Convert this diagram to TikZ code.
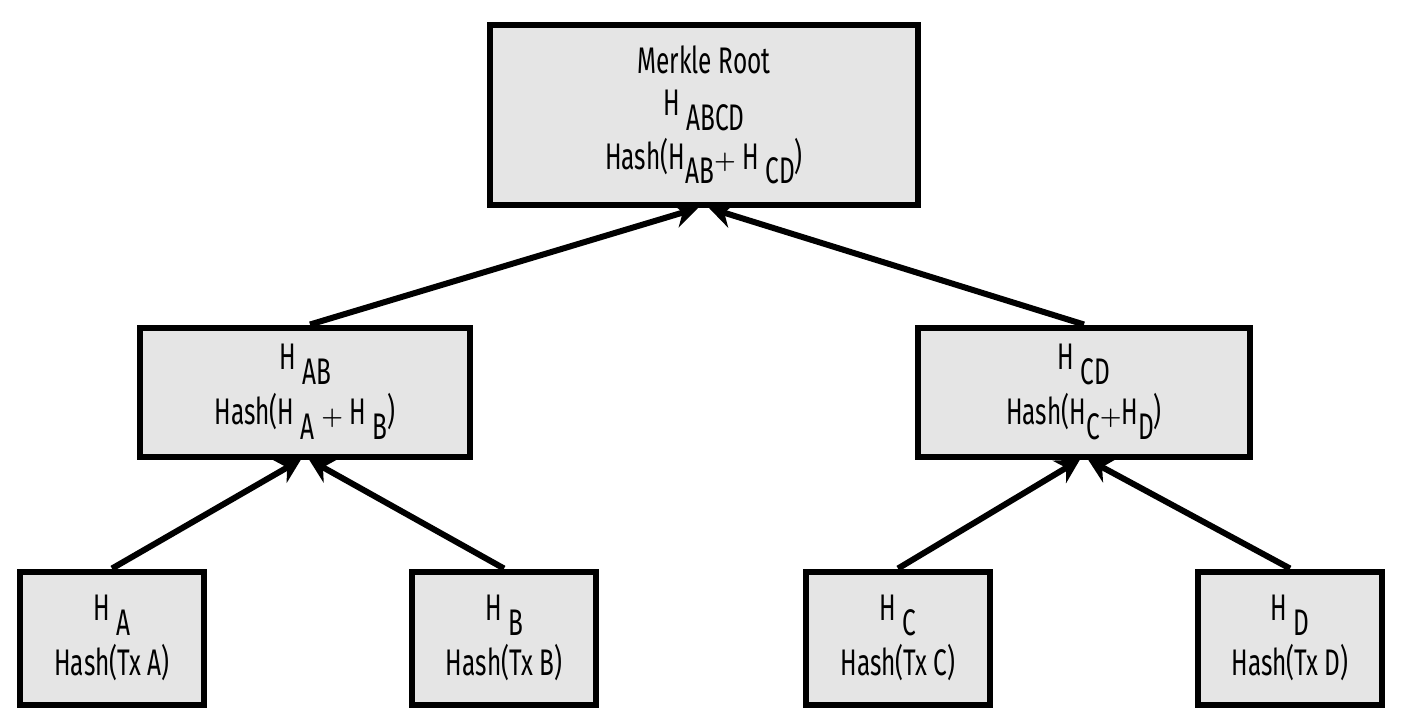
\documentclass[tikz,border=0pt]{standalone}
\usepackage{fontspec}
\usepackage{amsmath}
\setmainfont{Fira Sans}[FakeStretch=0.66]
\usetikzlibrary{arrows.meta}
% lowered label letters set at full size, as in the hash notation
\newcommand{\lowsub}[1]{\raisebox{-0.4em}{#1}}
\newcommand{\plus}{\raisebox{0.02em}{$\boldsymbol{+}$}}
\begin{document}
\begin{tikzpicture}[x=1pt,y=-1pt,
  hashbox/.style={draw=black, line width=6pt, fill=black!10, align=center,
    inner sep=0pt, font=\fontsize{37}{42}\selectfont},
  link/.style={line width=6pt, -{Stealth[length=24pt,width=26pt,inset=8pt]}}]
\useasboundingbox (0,0) rectangle (1408,724);

\node[hashbox, minimum width=428pt, minimum height=180pt] (root) at (704,115)
  {Merkle Root\\[0pt] H \lowsub{ABCD}\\[6pt] Hash(H\lowsub{AB}\plus\ H \lowsub{CD})};

\node[hashbox, minimum width=330pt, minimum height=129pt] (hab) at (305,392)
  {H \lowsub{AB}\\[8pt] Hash(H \lowsub{A} \plus\ H \lowsub{B})};
\node[hashbox, minimum width=332pt, minimum height=129pt] (hcd) at (1084,392)
  {H \lowsub{CD}\\[8pt] Hash(H\lowsub{C}\plus H\lowsub{D})};

\node[hashbox, minimum width=184pt, minimum height=133pt] (ha) at (112,638)
  {H \lowsub{A}\\[8pt] Hash(Tx A)};
\node[hashbox, minimum width=184pt, minimum height=133pt] (hb) at (504,638)
  {H \lowsub{B}\\[8pt] Hash(Tx B)};
\node[hashbox, minimum width=184pt, minimum height=133pt] (hc) at (898,638)
  {H \lowsub{C}\\[8pt] Hash(Tx C)};
\node[hashbox, minimum width=184pt, minimum height=133pt] (hd) at (1290,638)
  {H \lowsub{D}\\[8pt] Hash(Tx D)};

\draw[link] ([xshift=5pt]hab.north) -- ([xshift=-6pt]root.south);
\draw[link] (hcd.north) -- ([xshift=5pt]root.south);
\draw[link] (ha.north) -- ([xshift=-4pt]hab.south);
\draw[link] (hb.north) -- ([xshift=4pt]hab.south);
\draw[link] (hc.north) -- ([xshift=-4pt]hcd.south);
\draw[link] (hd.north) -- ([xshift=4pt]hcd.south);
\end{tikzpicture}
\end{document}
